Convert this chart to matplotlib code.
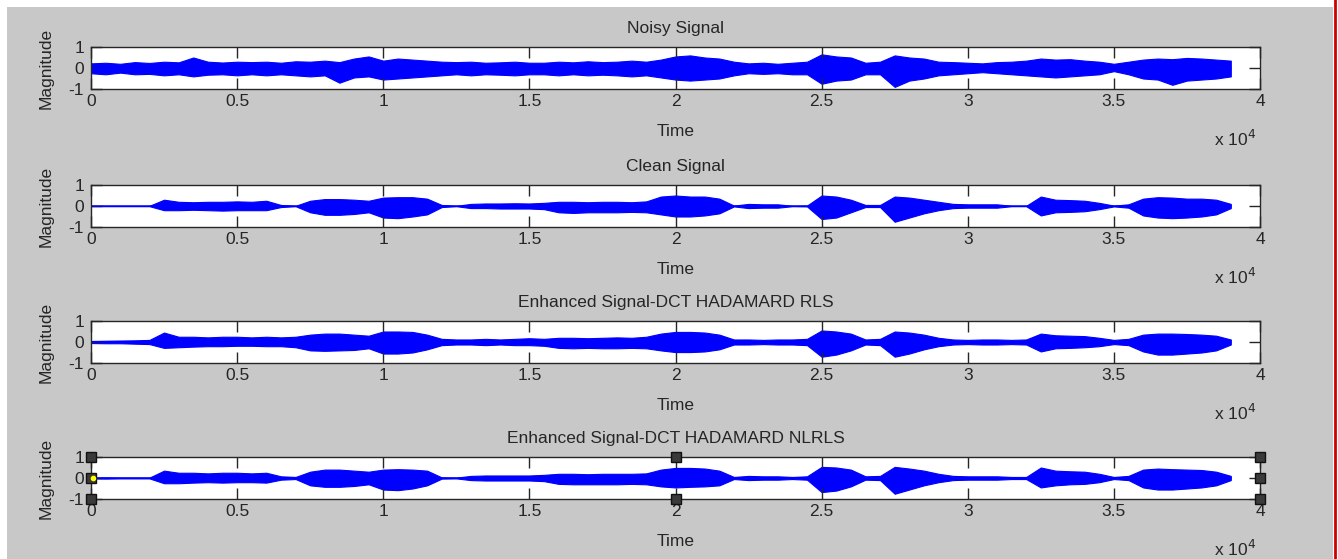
import numpy as np
import matplotlib.pyplot as plt
from matplotlib.patches import Rectangle
from matplotlib.ticker import FuncFormatter

# sample index of every envelope reading (one reading per 500 samples)
samples = np.arange(0, 39001, 500)

titles = ['Noisy Signal', 'Clean Signal',
          'Enhanced Signal-DCT HADAMARD RLS', 'Enhanced Signal-DCT HADAMARD NLRLS']

# upper / lower envelope of each waveform
noisy_hi = [0.22, 0.25, 0.2, 0.28, 0.24, 0.3, 0.27, 0.5, 0.3, 0.26, 0.3,
            0.28, 0.3, 0.25, 0.32, 0.3, 0.35, 0.28, 0.45, 0.55, 0.35,
            0.45, 0.4, 0.35, 0.3,
            0.28, 0.3, 0.25, 0.27, 0.3, 0.25,
            0.25, 0.3, 0.27, 0.32, 0.28, 0.3, 0.35, 0.3, 0.4, 0.55,
            0.6, 0.5, 0.45, 0.3,
            0.22, 0.25, 0.2, 0.25, 0.3,
            0.65, 0.55, 0.5,
            0.25, 0.3,
            0.6, 0.5, 0.45,
            0.3, 0.28, 0.25,
            0.22, 0.28, 0.3, 0.35,
            0.45, 0.4, 0.42, 0.35, 0.3,
            0.2, 0.3,
            0.4, 0.45, 0.42, 0.48, 0.45, 0.4, 0.35]
noisy_lo = [-0.25, -0.3, -0.22, -0.3, -0.28, -0.35, -0.3, -0.4, -0.32, -0.3, -0.35,
            -0.3, -0.35, -0.3, -0.35, -0.4, -0.35, -0.7, -0.45, -0.4, -0.55,
            -0.5, -0.45, -0.4, -0.35,
            -0.3, -0.35, -0.3, -0.32, -0.35, -0.3,
            -0.3, -0.35, -0.3, -0.35, -0.32, -0.35, -0.4, -0.35, -0.45, -0.55,
            -0.6, -0.55, -0.5, -0.35,
            -0.25, -0.28, -0.25, -0.3, -0.3,
            -0.75, -0.6, -0.55,
            -0.3, -0.3,
            -0.9, -0.6, -0.5,
            -0.35, -0.3, -0.25,
            -0.2, -0.25, -0.3, -0.35,
            -0.4, -0.45, -0.4, -0.35, -0.3,
            -0.15, -0.3,
            -0.5, -0.55, -0.8, -0.6, -0.55, -0.5, -0.4]

clean_hi = [0.01, 0.01, 0.01, 0.01, 0.01,
            0.3,
            0.2, 0.18, 0.2, 0.2, 0.22, 0.2, 0.25,
            0.05, 0.01,
            0.25, 0.33, 0.33, 0.3, 0.25,
            0.4, 0.42, 0.42, 0.35,
            0.05, 0.01,
            0.1, 0.12, 0.12, 0.13, 0.12, 0.15,
            0.2, 0.2, 0.18, 0.2, 0.2, 0.18, 0.22,
            0.45, 0.5,
            0.45, 0.45, 0.35,
            0.02, 0.1, 0.08, 0.08, 0.01, 0.02,
            0.5, 0.45, 0.3,
            0.05, 0.05,
            0.45, 0.4, 0.3, 0.2,
            0.1, 0.08, 0.08, 0.08,
            0.01, 0.01,
            0.45, 0.3, 0.28, 0.25, 0.15,
            0.02, 0.08,
            0.35, 0.42, 0.4, 0.35, 0.35, 0.3, 0.1]
clean_lo = [-0.01, -0.01, -0.01, -0.01, -0.01,
            -0.2,
            -0.2, -0.18, -0.2, -0.22, -0.2, -0.2, -0.2,
            -0.05, -0.01,
            -0.3, -0.42, -0.42, -0.38, -0.3,
            -0.55, -0.58, -0.5, -0.4,
            -0.05, -0.01,
            -0.1, -0.1, -0.12, -0.12, -0.12, -0.15,
            -0.3, -0.33, -0.3, -0.3, -0.3, -0.28, -0.3,
            -0.4, -0.5,
            -0.5, -0.45, -0.35,
            -0.02, -0.1, -0.08, -0.08, -0.01, -0.02,
            -0.62, -0.55, -0.3,
            -0.05, -0.05,
            -0.75, -0.55, -0.35, -0.2,
            -0.1, -0.08, -0.08, -0.08,
            -0.01, -0.01,
            -0.45, -0.3, -0.28, -0.25, -0.15,
            -0.02, -0.08,
            -0.45, -0.55, -0.58, -0.55, -0.5, -0.4, -0.1]

rls_hi = [0.05, 0.06, 0.07, 0.08, 0.1,
          0.45,
          0.25, 0.25, 0.22, 0.25, 0.25, 0.22, 0.25,
          0.22, 0.25,
          0.35, 0.4, 0.4, 0.35, 0.3,
          0.5, 0.5, 0.48, 0.35,
          0.15, 0.12,
          0.12, 0.15, 0.12, 0.15, 0.18, 0.15,
          0.2, 0.2, 0.18, 0.2, 0.22, 0.2, 0.25,
          0.4, 0.48,
          0.48, 0.45, 0.35,
          0.12, 0.12, 0.1, 0.12, 0.12, 0.15,
          0.55, 0.5, 0.4,
          0.12, 0.15,
          0.5, 0.45, 0.35, 0.2,
          0.12, 0.1, 0.12, 0.12,
          0.1, 0.12,
          0.4, 0.32, 0.3, 0.28, 0.2,
          0.1, 0.15,
          0.35, 0.4, 0.4, 0.38, 0.35, 0.3, 0.12]
rls_lo = [-0.05, -0.06, -0.06, -0.08, -0.1,
          -0.28,
          -0.25, -0.22, -0.2, -0.2, -0.18, -0.18, -0.2,
          -0.2, -0.25,
          -0.4, -0.42, -0.4, -0.38, -0.3,
          -0.55, -0.55, -0.5, -0.35,
          -0.15, -0.12,
          -0.12, -0.15, -0.12, -0.15, -0.15, -0.18,
          -0.28, -0.3, -0.28, -0.3, -0.3, -0.28, -0.3,
          -0.4, -0.48,
          -0.48, -0.45, -0.35,
          -0.12, -0.12, -0.1, -0.12, -0.12, -0.15,
          -0.7, -0.6, -0.4,
          -0.12, -0.15,
          -0.7, -0.55, -0.35, -0.2,
          -0.12, -0.1, -0.12, -0.12,
          -0.1, -0.12,
          -0.45, -0.3, -0.28, -0.25, -0.2,
          -0.1, -0.15,
          -0.45, -0.6, -0.6, -0.55, -0.5, -0.4, -0.12]

nlrls_hi = [0.02, 0.03, 0.02, 0.02, 0.02,
            0.35,
            0.25, 0.25, 0.22, 0.25, 0.25, 0.22, 0.25,
            0.08, 0.05,
            0.3, 0.4, 0.4, 0.35, 0.3,
            0.4, 0.42, 0.4, 0.35,
            0.03, 0.02,
            0.1, 0.12, 0.12, 0.12, 0.12, 0.15,
            0.2, 0.2, 0.18, 0.2, 0.2, 0.2, 0.22,
            0.4, 0.48,
            0.48, 0.45, 0.35,
            0.05, 0.1, 0.08, 0.08, 0.05, 0.08,
            0.53, 0.5, 0.4,
            0.08, 0.1,
            0.53, 0.45, 0.35, 0.2,
            0.1, 0.08, 0.08, 0.08,
            0.05, 0.05,
            0.5, 0.35, 0.32, 0.3, 0.2,
            0.05, 0.1,
            0.4, 0.45, 0.42, 0.4, 0.38, 0.3, 0.1]
nlrls_lo = [-0.02, -0.03, -0.02, -0.02, -0.02,
            -0.25,
            -0.25, -0.22, -0.2, -0.22, -0.2, -0.2, -0.22,
            -0.08, -0.05,
            -0.35, -0.42, -0.42, -0.38, -0.3,
            -0.55, -0.58, -0.5, -0.35,
            -0.03, -0.02,
            -0.1, -0.12, -0.12, -0.12, -0.12, -0.15,
            -0.28, -0.3, -0.3, -0.3, -0.3, -0.28, -0.3,
            -0.4, -0.45,
            -0.42, -0.4, -0.35,
            -0.05, -0.1, -0.08, -0.08, -0.05, -0.08,
            -0.67, -0.6, -0.4,
            -0.08, -0.1,
            -0.75, -0.55, -0.35, -0.2,
            -0.1, -0.08, -0.08, -0.08,
            -0.05, -0.05,
            -0.45, -0.35, -0.3, -0.28, -0.2,
            -0.05, -0.1,
            -0.45, -0.55, -0.55, -0.5, -0.45, -0.35, -0.1]

envelopes = [(noisy_hi, noisy_lo), (clean_hi, clean_lo),
             (rls_hi, rls_lo), (nlrls_hi, nlrls_lo)]

xticks = np.arange(0, 40001, 5000)
yticks = [-1, 0, 1]

plt.rcParams['font.family'] = ['Liberation Sans', 'DejaVu Sans']
plt.rcParams['axes.unicode_minus'] = False
FS = 12.5
INK = '#262626'

W, H = 1338, 559
fig = plt.figure(figsize=(W / 100, H / 100), dpi=100, facecolor='white')
# matlab figure background
fig.patches.append(Rectangle((7 / W, 0), 1326 / W, 552 / H, transform=fig.transFigure,
                             facecolor='#c8c8c8', edgecolor='none', zorder=-10))
fig.lines.append(plt.Line2D([1335 / W, 1335 / W], [0, 1], transform=fig.transFigure,
                            color='#d00000', lw=2))

tops = [47, 185, 321, 457]
ax_h = 42
for k, (title, (hi, lo)) in enumerate(zip(titles, envelopes)):
    bottom = 1 - (tops[k] + ax_h) / H
    ax = fig.add_axes([91 / W, bottom, 1169 / W, ax_h / H])
    ax.set_facecolor('white')
    hi = np.array(hi)
    lo = np.array(lo)
    ax.fill_between(samples, lo, hi, color='#0000ff', edgecolor='#0000ff', lw=0.8)
    ax.plot(samples, (hi + lo) / 2, color='#0000ff', lw=1)
    ax.set_xlim(0, 40000)
    ax.set_ylim(-1, 1)
    ax.set_xticks(xticks)
    ax.set_yticks(yticks)
    ax.xaxis.set_major_formatter(FuncFormatter(lambda v, p: f'{v / 1e4:g}'))
    ax.tick_params(direction='in', length=8, width=1, top=True, right=True,
                   labelsize=FS, colors=INK, labelcolor=INK)
    ax.tick_params(axis='x', pad=3.5)
    ax.tick_params(axis='y', pad=5)
    for s in ax.spines.values():
        s.set_linewidth(1)
        s.set_color(INK)
    ax.set_title(title, fontsize=FS, pad=10, color=INK)
    ax.set_xlabel('Time', fontsize=FS, color=INK)
    ax.xaxis.set_label_coords(0.5, -0.83)
    ax.xaxis.label.set_va('top')
    ax.set_ylabel('Magnitude', fontsize=FS, color=INK)
    ax.yaxis.set_label_coords(-0.0317, 0.5)
    ax.text(0.9786, -1.2, r'x 10$^4$', transform=ax.transAxes, ha='center', va='center',
            fontsize=FS, color=INK)

    if k == 3:
        # selection handles of the edited axes
        hx = [0, 0, 0, 0.5, 0.5, 1, 1, 1]
        hy = [0, 0.5, 1, 0, 1, 0, 0.5, 1]
        ax.plot(hx, hy, 's', transform=ax.transAxes, ms=7, mfc='#3a3a3a', mec='#111111',
                mew=1, clip_on=False, zorder=10)
        ax.plot([0.002], [0.5], 'o', transform=ax.transAxes, ms=3, mfc='#ffff00',
                mec='#ffff00', clip_on=False, zorder=11)

fig.savefig('out.png', dpi=100, facecolor=fig.get_facecolor())
